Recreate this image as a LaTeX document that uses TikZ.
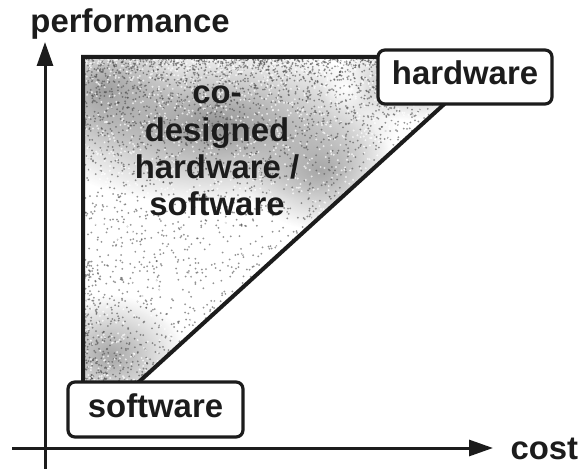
\documentclass[tikz,border=0pt]{standalone}
\usepackage{fontspec}
\setmainfont{Liberation Sans}
\usetikzlibrary{arrows.meta,fadings}
\definecolor{ink}{HTML}{1C1C1C}
\tikzfading[name=softblob, inner color=transparent!0, outer color=transparent!100]
\tikzset{
  axis/.style={draw=ink, line width=3bp, -{Triangle[length=24bp,width=16bp]}},
  region/.style={draw=ink, line width=4bp, line join=miter},
  labelbox/.style={draw=ink, fill=white, line width=3.2bp, rounded corners=7bp,
    inner sep=0pt, text=ink, font=\bfseries\fontsize{33}{36}\selectfont,
    text height=24bp, text depth=8bp},
  bigtext/.style={text=ink, font=\bfseries\fontsize{33}{37}\selectfont},
  blob/.style={fill=#1, path fading=softblob},
  grain/.style={fill=gray!60!black, opacity=0.6},
  speck/.style={fill=white, opacity=0.7},
}
\begin{document}
\begin{tikzpicture}[x=1bp, y=-1bp]
  \useasboundingbox (0,0) rectangle (587,469);

  % design space corners
  \coordinate (tl) at (83,57);
  \coordinate (tr) at (496,57);
  \coordinate (br) at (119,400);
  \coordinate (bl) at (83,400);

  % stippled shading of the co-design region
  \begin{scope}
    \clip (tl) -- (tr) -- (br) -- (bl) -- cycle;
    \fill[white] (tl) -- (tr) -- (br) -- (bl) -- cycle;
    \fill[blob=gray!85] (215,125) ellipse (185 and 80);
    \fill[blob=gray!75] (105,90) ellipse (75 and 65);
    \fill[blob=gray!70] (320,170) ellipse (75 and 60);
    \fill[blob=gray!70] (110,355) ellipse (75 and 60);
    \fill[blob=gray!60] (410,80) ellipse (75 and 40);
    \fill[blob=white] (345,88) ellipse (24 and 24);
    \fill[blob=white] (150,265) ellipse (80 and 35);
    \pgfmathsetseed{11}
    % dark grain, thinning out downwards from the top edge
    \foreach \i in {1,...,3600}{
      \pgfmathsetmacro\px{83+rnd*400}
      \pgfmathsetmacro\py{57+220*rnd^2.4}
      \fill[grain] (\px,\py) circle (1.0);
    }
    % light grain breaking up the upper band
    \foreach \i in {1,...,1800}{
      \pgfmathsetmacro\px{83+rnd*380}
      \pgfmathsetmacro\py{57+200*rnd^2.0}
      \fill[speck] (\px,\py) circle (1.1);
    }
    % dark grain thinning out from the lower left corner
    \foreach \i in {1,...,1000}{
      \pgfmathsetmacro\px{83+160*rnd^2.0}
      \pgfmathsetmacro\py{400-140*rnd^2.0}
      \fill[grain] (\px,\py) circle (1.0);
    }
    \foreach \i in {1,...,400}{
      \pgfmathsetmacro\px{83+150*rnd^1.8}
      \pgfmathsetmacro\py{400-130*rnd^1.8}
      \fill[speck] (\px,\py) circle (1.1);
    }
  \end{scope}
  \draw[region] (bl) -- (tl) -- (tr) -- (br);

  % axes
  \coordinate (yfoot) at (45,469);
  \coordinate (ytip) at (45,42);
  \coordinate (xfoot) at (12,448);
  \coordinate (xtip) at (493,448);
  \draw[axis] (yfoot) -- (ytip);
  \draw[axis] (xfoot) -- (xtip);

  \node[bigtext, anchor=base] (perf) at (130,33) {performance};
  \node[bigtext, anchor=base west] (cost) at (507,459) {cost};

  % corner labels
  \node[labelbox, minimum width=174bp, minimum height=54bp] (hw) at (465,77) {hardware};
  \node[labelbox, minimum width=175bp, minimum height=55bp] (sw) at (155.5,409.5) {software};

  % region label
  \node[bigtext, align=center, font=\bfseries\fontsize{33}{37.5}\selectfont]
    (co) at (217,151) {co-\\designed\\hardware /\\software};
\end{tikzpicture}
\end{document}
